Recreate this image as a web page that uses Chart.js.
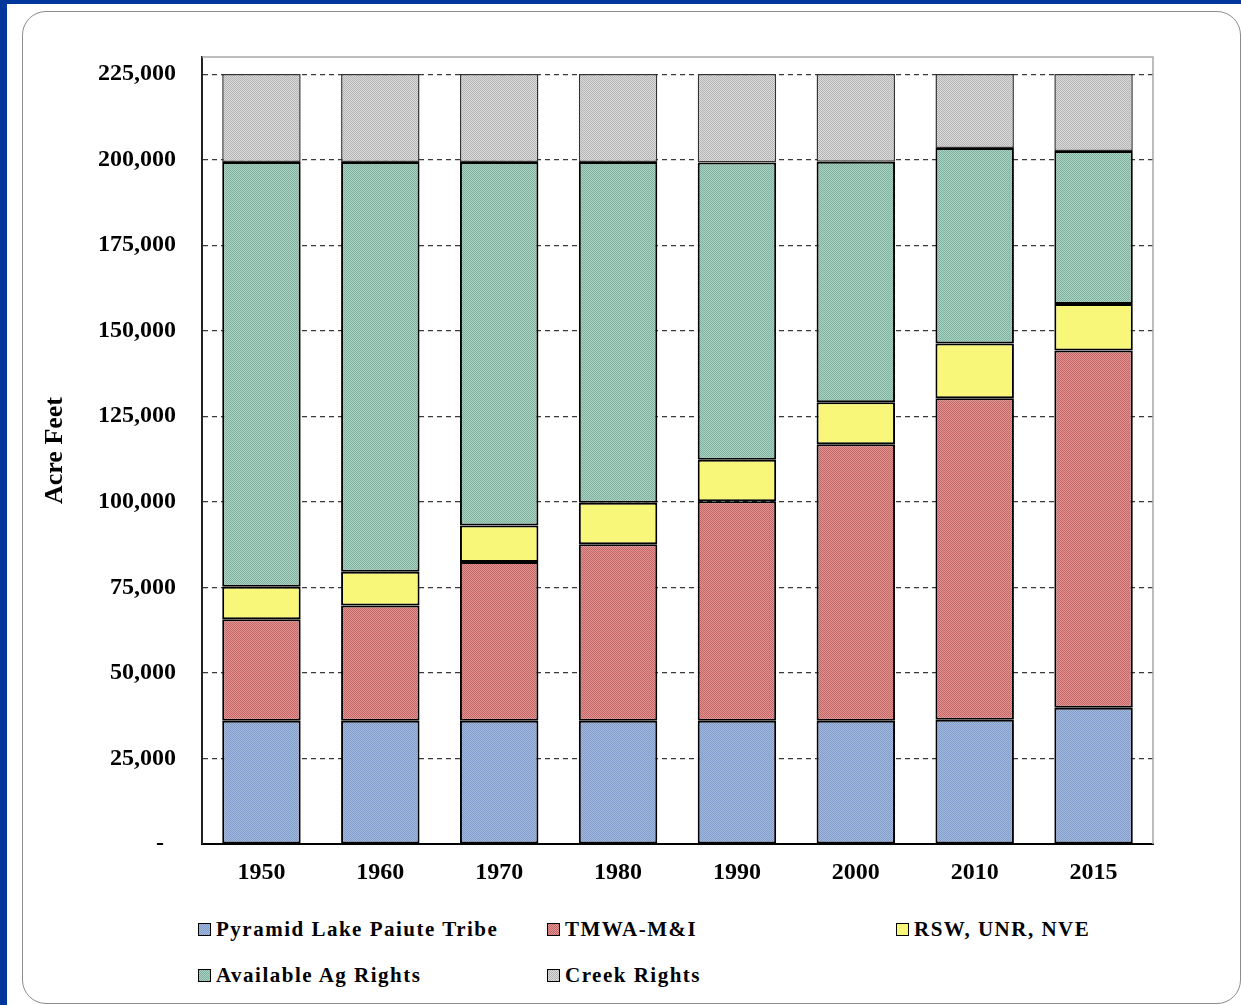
<!DOCTYPE html>
<html>
<head>
<meta charset="utf-8">
<script src="https://cdn.jsdelivr.net/npm/chart.js@4.4.1/dist/chart.umd.min.js"></script>
<style>
html, body { margin: 0; padding: 0; background: #fff; }
body { width: 1241px; height: 1005px; position: relative; overflow: hidden;
       font-family: 'Liberation Serif', 'Times New Roman', serif; }
#frame-left { position: absolute; left: 0; top: 0; width: 7px; height: 1005px; background: #00379a; }
#frame-top { position: absolute; left: 0; top: 0; width: 1241px; height: 4px; background: #00379a; }
#panel { position: absolute; left: 22px; top: 11px; width: 1219px; height: 993px;
         border: 1.5px solid #8c8c8c; border-radius: 24px; box-sizing: border-box; }
#wrap { position: absolute; left: 0; top: 0; width: 1241px; height: 900px; }
#legend { position: absolute; left: 198px; top: 916px; display: grid;
          grid-template-columns: 349px 349px 349px; grid-auto-rows: 46px; }
.item { display: flex; align-items: center; height: 27px; font-weight: bold; font-size: 21px;
        letter-spacing: 1.5px; color: #000; white-space: nowrap; }
.box { width: 13px; height: 13px; border: 1.5px solid #000; box-sizing: border-box; margin-right: 5px; }
</style>
</head>
<body>
<div id="frame-left"></div>
<div id="frame-top"></div>
<div id="panel"></div>
<div id="wrap"><canvas id="chart-water" width="1241" height="900"></canvas></div>
<div id="legend"></div>
<script>
// Water rights by decade, acre feet
const years = ['1950', '1960', '1970', '1980', '1990', '2000', '2010', '2015'];
const pyramidLake = [36000, 36000, 36000, 36000, 36000, 36000, 36300, 39800];
const tmwa = [29700, 33700, 46400, 51600, 64200, 80800, 94000, 104400];
const rswUnrNve = [9500, 9900, 10700, 12100, 12100, 12300, 16000, 13600];
const availableAg = [124100, 119700, 106200, 99600, 86900, 70300, 57100, 44700];
const creekRights = [25700, 25700, 25700, 25700, 25800, 25600, 21600, 22500];
const yTickValues = [0, 25000, 50000, 75000, 100000, 125000, 150000, 175000, 200000, 225000];

const Y_MAX = 230000;

const FONT = "'Liberation Serif', 'Times New Roman', serif";
Chart.defaults.font.family = FONT;
Chart.defaults.font.weight = 'bold';
Chart.defaults.color = '#000';

// fine dotted fill like the old Excel textures
function checkerTile(c1, c2) {
    const t = document.createElement('canvas');
    t.width = 2; t.height = 2;
    const g = t.getContext('2d');
    g.fillStyle = c1; g.fillRect(0, 0, 2, 2);
    g.fillStyle = c2; g.fillRect(0, 0, 1, 1); g.fillRect(1, 1, 1, 1);
    return t;
}

const canvas = document.getElementById('chart-water');
const ctx = canvas.getContext('2d');

const series = [
    { label: 'Pyramid Lake Paiute Tribe', data: pyramidLake, tile: checkerTile('#a4b9de', '#819bca'), border: '#000', bw: 2 },
    { label: 'TMWA-M&I', data: tmwa, tile: checkerTile('#e49393', '#c26666'), border: '#000', bw: 2 },
    { label: 'RSW, UNR, NVE', data: rswUnrNve, tile: checkerTile('#fbfa7e', '#f6f474'), border: '#000', bw: 2 },
    { label: 'Available Ag Rights', data: availableAg, tile: checkerTile('#a9d3c2', '#82b09e'), border: '#000', bw: 2 },
    { label: 'Creek Rights', data: creekRights, tile: checkerTile('#dcdcdc', '#b3b3b3'), border: '#333', bw: 1.5 }
];

const plotFrame = {
    id: 'plotFrame',
    beforeDatasetsDraw(chart) {
        const a = chart.chartArea;
        const c = chart.ctx;
        c.save();
        c.strokeStyle = '#a8a8a8';
        c.lineWidth = 1.5;
        c.beginPath();
        c.moveTo(a.left, a.top);
        c.lineTo(a.right, a.top);
        c.lineTo(a.right, a.bottom);
        c.stroke();
        c.restore();
    }
};

new Chart(canvas, {
    type: 'bar',
    data: {
        labels: years,
        datasets: series.map(s => ({
            label: s.label,
            data: s.data,
            backgroundColor: ctx.createPattern(s.tile, 'repeat'),
            borderColor: s.border,
            borderWidth: s.bw,
            borderSkipped: false,
            barPercentage: 0.66,
            categoryPercentage: 1.0
        }))
    },
    options: {
        responsive: false,
        animation: false,
        layout: { padding: { left: 40, top: 57, right: 88, bottom: 6 } },
        plugins: { legend: { display: false }, tooltip: { enabled: false } },
        scales: {
            x: {
                stacked: true,
                grid: { display: false, drawTicks: false },
                border: { display: true, color: '#000', width: 2 },
                ticks: { padding: 14, font: { size: 24, weight: 'bold' }, color: '#000' },
                afterFit: scale => { scale.height = 50; }
            },
            y: {
                stacked: true,
                min: 0,
                max: Y_MAX,
                afterBuildTicks: scale => {
                    scale.ticks = yTickValues.map(v => ({ value: v }));
                },
                ticks: {
                    autoSkip: false,
                    padding: 26,
                    font: { size: 24, weight: 'bold' },
                    color: '#000',
                    callback: v => v === 0 ? '-  ' : v.toLocaleString('en-US')
                },
                grid: {
                    drawTicks: false,
                    lineWidth: 1.2,
                    color: c => (c.tick && c.tick.value === 0) ? 'rgba(0,0,0,0)' : '#3a3a3a'
                },
                border: { display: true, color: '#222', width: 2, dash: [5, 4] },
                title: {
                    display: true,
                    text: 'Acre Feet',
                    padding: 0,
                    font: { size: 26, weight: 'bold' },
                    color: '#000'
                },
                afterFit: scale => { scale.width = 162; }
            }
        }
    },
    plugins: [plotFrame]
});

// legend laid out in three columns like the original
const legendEl = document.getElementById('legend');
series.forEach(s => {
    const item = document.createElement('div');
    item.className = 'item';
    const box = document.createElement('span');
    box.className = 'box';
    box.style.backgroundImage = 'url(' + s.tile.toDataURL() + ')';
    item.appendChild(box);
    item.appendChild(document.createTextNode(s.label));
    legendEl.appendChild(item);
});
</script>
</body>
</html>
